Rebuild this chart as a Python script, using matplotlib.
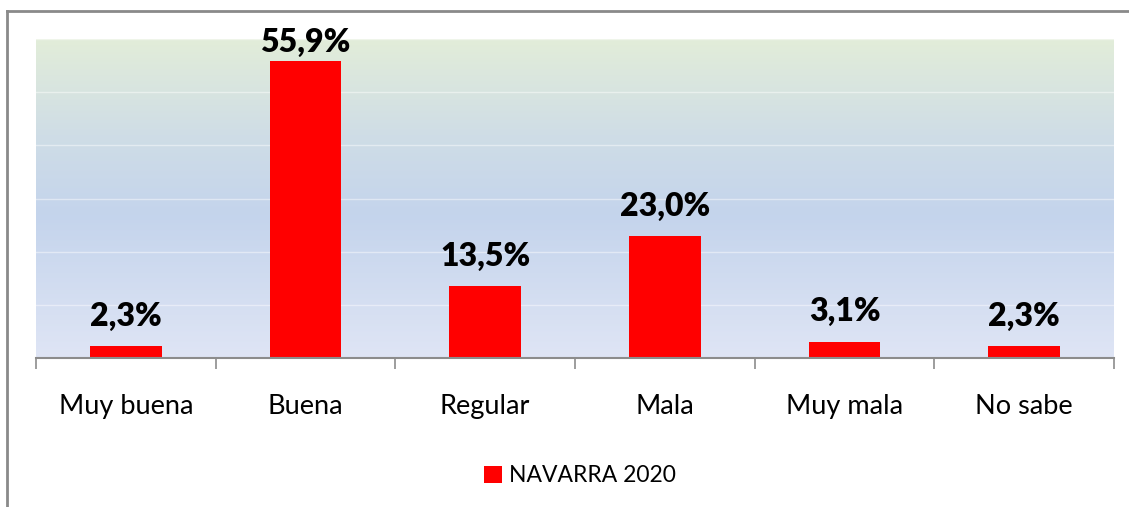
import matplotlib
matplotlib.use("Agg")
import matplotlib.pyplot as plt
import numpy as np
from matplotlib.lines import Line2D
from matplotlib.colors import LinearSegmentedColormap

plt.rcParams['font.family'] = ['Lato', 'DejaVu Sans']

# datos
categorias = ['Muy buena', 'Buena', 'Regular', 'Mala', 'Muy mala', 'No sabe']
valores = [2.3, 55.9, 13.5, 23.0, 3.1, 2.3]
serie = 'NAVARRA 2020'

W, H = 1129, 507
fig = plt.figure(figsize=(W / 100, H / 100), dpi=100)
ax = fig.add_axes([36 / W, 1 - 358 / H, (1114 - 36) / W, (358 - 39) / H])

# fondo degradado verde -> azul -> lila claro
cmap = LinearSegmentedColormap.from_list(
    'fondo', [(0.0, '#dfe5f5'), (0.45, '#c4d4ec'), (0.7, '#cfdde6'), (1.0, '#e2edd9')])
grad = np.linspace(0, 1, 256).reshape(-1, 1)
ax.imshow(grad, aspect='auto', cmap=cmap, origin='lower',
          extent=[0, 1, 0, 1], transform=ax.transAxes, zorder=0)

x = np.arange(len(categorias))
ax.bar(x, valores, width=0.4, color='#ff0000', zorder=3, label=serie)

ax.set_xlim(-0.5, len(categorias) - 0.5)
ax.set_ylim(0, 60)
ax.set_yticks(np.arange(0, 61, 10))
ax.yaxis.grid(True, color='white', linewidth=1.0, alpha=0.45, zorder=1)
ax.tick_params(axis='y', left=False, labelleft=False)

for s in ['top', 'right', 'left']:
    ax.spines[s].set_visible(False)
ax.spines['bottom'].set_color('#8c8c8c')
ax.spines['bottom'].set_linewidth(1.5)
ax.spines['bottom'].set_zorder(4)

ax.set_xticks(x)
ax.set_xticklabels(categorias, fontsize=19.5)
ax.tick_params(axis='x', length=0, pad=26)
ax.set_xticks(np.arange(-0.5, len(categorias), 1), minor=True)
ax.tick_params(axis='x', which='minor', length=8, width=1.2, color='#8c8c8c')

for xi, v in zip(x, valores):
    ax.text(xi, min(v + 3.8, 57.6), f'{v:.1f}%'.replace('.', ','),
            ha='center', va='baseline', fontsize=23, fontweight='heavy', zorder=5)

fig.legend(loc='center', bbox_to_anchor=(580 / W, 1 - 476 / H), frameon=False,
           fontsize=16.5, handlelength=0.8, handleheight=0.8, handletextpad=0.3)

# marco del grafico
fig.add_artist(Line2D([7 / W, 7 / W], [0, 1 - 11 / H], color='#8a8a8a', linewidth=2))
fig.add_artist(Line2D([7 / W, 1], [1 - 11 / H, 1 - 11 / H], color='#8a8a8a', linewidth=2))

fig.savefig('out.png', dpi=100)
